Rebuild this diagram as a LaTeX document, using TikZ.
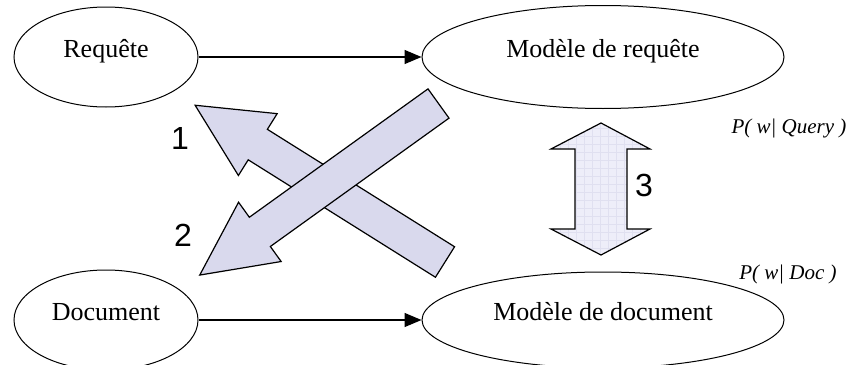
\documentclass[tikz,border=0pt]{standalone}
\usepackage{fontspec}
\setmainfont{Liberation Serif}
\newfontfamily\digitfont{Liberation Sans}
\usetikzlibrary{positioning,shapes.geometric,arrows.meta}

\definecolor{arrowfill}{RGB}{217,217,237}
\definecolor{gridfill}{RGB}{238,238,249}
\definecolor{gridline}{RGB}{224,224,240}

\tikzstyle{E} = [ellipse,
			draw, line width=1pt,
			minimum width=184pt, minimum height=100pt,
			text height=13pt, text depth=13pt,
			font=\fontsize{26}{30}\selectfont]
\tikzstyle{L} = [draw, line width=1.4pt, -{Triangle[length=17pt,width=14pt]}]
\tikzstyle{B} = [draw, line width=1.2pt, fill=arrowfill, line join=miter]
\tikzstyle{N} = [font=\digitfont\fontsize{32}{36}\selectfont]
\tikzstyle{P} = [font=\itshape\fontsize{21}{24}\selectfont]

\begin{document}
\begin{tikzpicture}[x=1pt, y=-1pt, node distance=497pt]

\useasboundingbox (0,0) rectangle (851,364);

\node [E] at (106,57)
(req)
	{Requête};

\node [E, right of =req, minimum width=362pt, minimum height=103pt]
(mreq)
	{Modèle de requête};

\node [E, below of =req, node distance=263pt]
(doc)
	{Document};

\node [E, right of =doc, minimum width=362pt, minimum height=96pt]
(mdoc)
	{Modèle de document};

\path[L] (req) -- (mreq);

\path[L] (doc) -- (mdoc);

% crossing arrows 1 and 2
\foreach \x/\y/\a/\l in {445/262/147.9/295, 438.5/103.5/215.7/294}
	\path[B, shift={(\x,\y)}, rotate=\a]
		(0,-18) -- (\l-74,-18) -- (\l-74,-36.5) -- (\l,0)
		-- (\l-74,36.5) -- (\l-74,18) -- (0,18) -- cycle;

% arrow 3
\path[B, fill=gridfill, path picture={\draw[gridline, line width=0.6pt, step=8pt]
		(path picture bounding box.south west) grid
		(path picture bounding box.north east);}]
	(601,123) -- (650,149) -- (627,149) -- (627,229) -- (650,229)
	-- (601,255) -- (551,229) -- (575,229) -- (575,149) -- (551,149) -- cycle;

\node [N] at (180,138) (one) {1};
\node [N] at (183,235) (two) {2};
\node [N] at (644,185) (three) {3};

\node [P] at (789,128) (pq) {P( w| Query )};
\node [P] at (788,274) (pd) {P( w| Doc )};

\end{tikzpicture}
\end{document}
